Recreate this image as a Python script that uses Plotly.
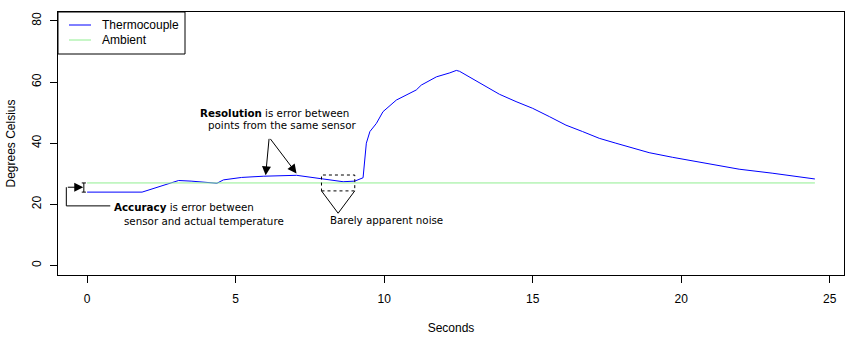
import plotly.graph_objects as go

# ---- data ----
thermo_t = [0.0, 1.85, 3.08, 3.5, 4.37, 4.59, 5.2, 5.93, 7.05, 7.4, 7.9, 8.62, 9.01, 9.29,
            9.40, 9.52, 9.74, 9.96, 10.41, 11.08, 11.25, 11.76, 12.21, 12.43, 12.54, 12.76,
            13.32, 13.88, 14.44, 15.0, 15.56, 16.12, 16.68, 17.24, 17.8, 18.36, 18.92,
            19.7, 20.83, 21.95, 23.06, 24.5]
thermo_v = [24.0, 24.0, 27.8, 27.6, 26.9, 28.0, 28.8, 29.2, 29.5, 29.0, 28.3, 27.4, 27.6, 28.7,
            40.0, 43.8, 46.5, 50.3, 54.1, 57.4, 59.0, 61.7, 63.0, 63.8, 63.5, 62.3,
            59.0, 56.0, 53.6, 51.4, 48.7, 45.9, 43.8, 41.6, 40.0, 38.5, 36.9,
            35.4, 33.4, 31.5, 30.2, 28.3]
ambient_t = [0.0, 5.0, 10.0, 15.0, 20.0, 24.5]
ambient_v = [27.0, 27.0, 27.0, 27.0, 27.0, 27.0]

series_names = ["Thermocouple", "Ambient"]
series_colors = ["#0000FF", "#90EE90"]

x_ticks = [0, 5, 10, 15, 20, 25]
y_ticks = [0, 20, 40, 60, 80]

AX_FONT = "Liberation Sans, Arial, sans-serif"
ANN_FONT = "DejaVu Sans, sans-serif"
ANN_SIZE = 10.3

W, H = 858, 340
ML, MR, MT, MB = 58, 14, 12, 65
PW, PH = W - ML - MR, H - MT - MB

def px_to_paper(px, py):
    return (px - ML) / PW, 1 - (py - MT) / PH

fig = go.Figure()
fig.add_trace(go.Scatter(x=thermo_t, y=thermo_v, mode="lines", name=series_names[0],
                         line=dict(color=series_colors[0], width=1), showlegend=False))
fig.add_trace(go.Scatter(x=ambient_t, y=ambient_v, mode="lines", name=series_names[1],
                         line=dict(color=series_colors[1], width=1), showlegend=False))

shapes = []
annotations = []

# Accuracy I-beam between sensor and ambient at start
ib_x = -0.11
ib_cap = 0.07
y_lo, y_hi = thermo_v[0], ambient_v[0]
for (x0, y0, x1, y1) in [(ib_x, y_lo, ib_x, y_hi), (ib_x - ib_cap, y_lo, ib_x + ib_cap, y_lo),
                         (ib_x - ib_cap, y_hi, ib_x + ib_cap, y_hi)]:
    shapes.append(dict(type="line", xref="x", yref="y", x0=x0, y0=y0, x1=x1, y1=y1,
                       line=dict(color="black", width=1)))
# elbow connector for accuracy
elb_x, elb_y_low, elb_y_high, elb_x_end = -0.70, 19.5, 25.6, 0.78
shapes.append(dict(type="line", xref="x", yref="y", x0=elb_x_end, y0=elb_y_low, x1=elb_x, y1=elb_y_low,
                   line=dict(color="black", width=1)))
shapes.append(dict(type="line", xref="x", yref="y", x0=elb_x, y0=elb_y_low, x1=elb_x, y1=elb_y_high,
                   line=dict(color="black", width=1)))
annotations.append(dict(x=ib_x - 0.02, y=elb_y_high, xref="x", yref="y", ax=elb_x, ay=elb_y_high,
                        axref="x", ayref="y", showarrow=True, arrowhead=2, arrowsize=1.8,
                        arrowwidth=1, arrowcolor="black", text="", standoff=0))

# Noise box
nb_x0, nb_x1, nb_y0, nb_y1 = 7.89, 9.01, 24.4, 29.6
apex_x, apex_y = 8.45, 17.1
shapes.append(dict(type="rect", xref="x", yref="y", x0=nb_x0, x1=nb_x1, y0=nb_y0, y1=nb_y1,
                   line=dict(color="black", width=1, dash="dot")))
for bx in (nb_x0, nb_x1):
    shapes.append(dict(type="line", xref="x", yref="y", x0=bx, y0=nb_y0, x1=apex_x, y1=apex_y,
                       line=dict(color="black", width=1)))

# Resolution arrows
res_tail = (6.13, 41.9)
for tip in [(6.01, 29.5), (7.05, 30.1)]:
    annotations.append(dict(x=tip[0], y=tip[1], xref="x", yref="y", ax=res_tail[0], ay=res_tail[1],
                            axref="x", ayref="y", showarrow=True, arrowhead=2, arrowsize=1.8,
                            arrowwidth=1, arrowcolor="black", text="", standoff=0))

# Texts
def txt(x, y, s):
    annotations.append(dict(x=x, y=y, xref="x", yref="y", text=s, showarrow=False,
                            xanchor="left", yanchor="middle",
                            font=dict(family=ANN_FONT, size=ANN_SIZE, color="black")))

txt(0.84, 19.3, "<b>Accuracy</b> is error between")
txt(1.18, 14.7, "sensor and actual temperature")
txt(3.72, 50.0, "<b>Resolution</b> is error between")
txt(4.00, 45.9, "points from the same sensor")
txt(8.12, 14.9, "Barely apparent noise")

# Legend (R-style box in the top-left corner)
lx0, ly0 = px_to_paper(58, 12)
lx1, ly1 = px_to_paper(185, 54)
shapes.append(dict(type="rect", xref="paper", yref="paper", x0=lx0, y0=ly1, x1=lx1, y1=ly0,
                   fillcolor="white", line=dict(color="black", width=1), layer="above"))
for i, (name, col) in enumerate(zip(series_names, series_colors)):
    row_y = 25 + 15 * i
    sx0, sy = px_to_paper(69, row_y)
    sx1, _ = px_to_paper(91, row_y)
    tx, ty = px_to_paper(101, row_y)
    shapes.append(dict(type="line", xref="paper", yref="paper", x0=sx0, y0=sy, x1=sx1, y1=sy,
                       line=dict(color=col, width=1), layer="above"))
    annotations.append(dict(x=tx, y=ty, xref="paper", yref="paper", text=name, showarrow=False,
                            xanchor="left", yanchor="middle", borderpad=0,
                            font=dict(family=AX_FONT, size=12, color="black")))

fig.update_layout(
    width=W, height=H,
    margin=dict(l=ML, r=MR, t=MT, b=MB, autoexpand=False),
    paper_bgcolor="white", plot_bgcolor="white",
    font=dict(family=AX_FONT, size=12, color="black"),
    shapes=shapes, annotations=annotations,
    showlegend=False,
)
fig.update_xaxes(range=[-0.98, 25.48], tickvals=x_ticks, ticktext=[str(v) for v in x_ticks],
                 showgrid=False, zeroline=False, showline=True, mirror=True,
                 linecolor="black", linewidth=1, ticks="outside", ticklen=7,
                 tickcolor="black", ticklabelstandoff=6, automargin=False,
                 title=dict(text="Seconds", standoff=18, font=dict(size=12)))
fig.update_yaxes(range=[-3.1, 82.9], tickvals=y_ticks, ticktext=[str(v) for v in y_ticks],
                 showgrid=False, zeroline=False, showline=True, mirror=True,
                 linecolor="black", linewidth=1, ticks="outside", ticklen=7,
                 tickcolor="black", tickangle=-90, ticklabelstandoff=4, automargin=False,
                 title=dict(text="Degrees Celsius", standoff=12, font=dict(size=12)))

fig.write_html("out.html")
